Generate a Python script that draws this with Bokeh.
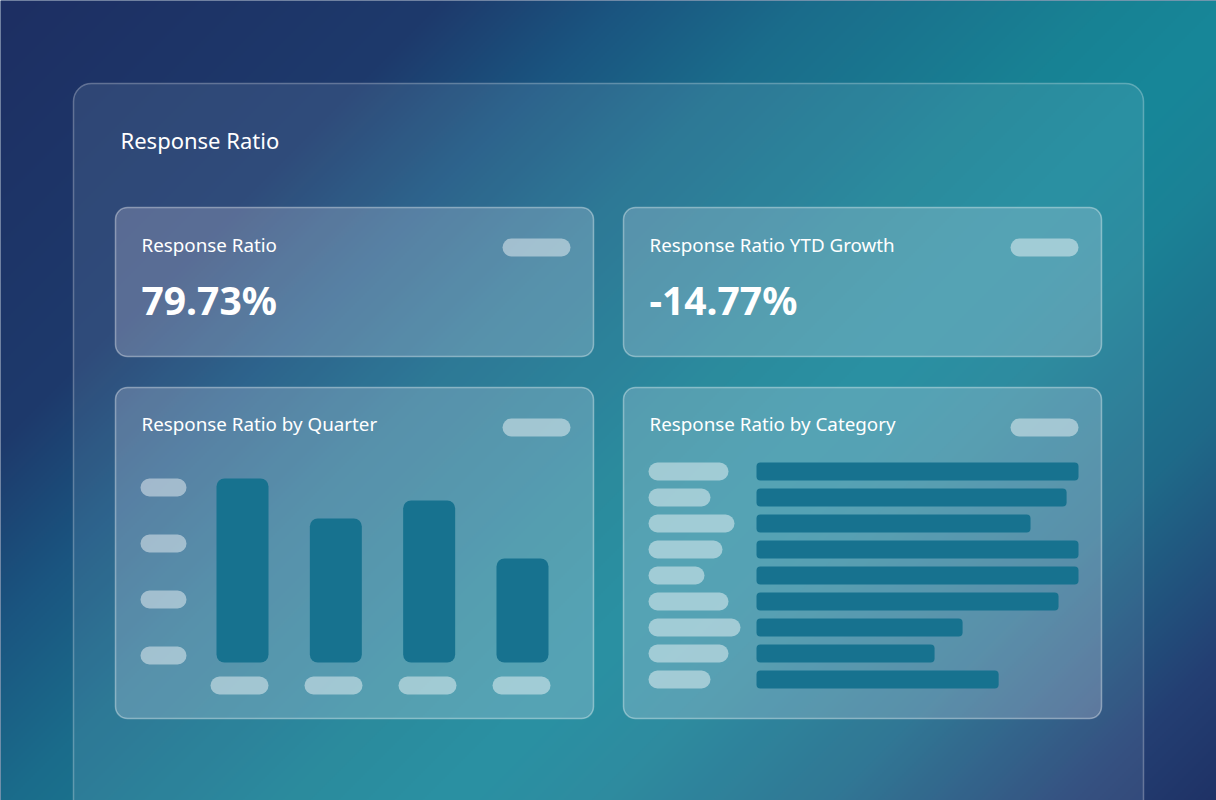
import numpy as np
from bokeh.plotting import figure
from bokeh.models import Range1d
from bokeh.core.properties import value
from bokeh.embed import file_html
from bokeh.resources import INLINE

# ---------------- data ----------------
dashboard_title = "Response Ratio"
kpi_titles = ["Response Ratio", "Response Ratio YTD Growth"]
kpi_values = ["79.73%", "-14.77%"]

quarter_chart_title = "Response Ratio by Quarter"
quarters = ["Q1", "Q2", "Q3", "Q4"]
quarter_values = [92, 72, 81, 52]

category_chart_title = "Response Ratio by Category"
categories = ["Cat A", "Cat B", "Cat C", "Cat D", "Cat E",
              "Cat F", "Cat G", "Cat H", "Cat I"]
category_values = [100.0, 96.3, 85.1, 100.0, 100.0, 93.8, 64.0, 55.3, 75.2]

# ---------------- layout / style ----------------
W, H = 1216, 800
FONT = value("Noto Sans")
BAR_COLOR = "#17728f"
PILL_ALPHA = 0.45
label_pill_widths = [80, 62, 86, 74, 56, 80, 92, 80, 62]
BASE_SHIFT = 0.46  # baseline correction (fraction of font size)


def Y(py):
    return H - py


def TY(py, size):
    return Y(py - BASE_SHIFT * size)


def hex2rgb(h):
    h = h.lstrip("#")
    return [int(h[i:i + 2], 16) for i in (0, 2, 4)]


p = figure(width=W, height=H, x_range=Range1d(0, W), y_range=Range1d(0, H),
           output_backend="svg", toolbar_location=None, min_border=0,
           x_axis_location=None, y_axis_location=None)
p.grid.visible = False
p.outline_line_color = None
p.background_fill_color = "#1d3a6c"
p.border_fill_color = "#1d3a6c"

# background gradient (style only)
nx, ny = 608, 400
gx = (np.arange(nx) + 0.5) * W / nx
gy = H - (np.arange(ny) + 0.5) * H / ny
t = (gx[None, :] + gy[:, None]) / (W + H)
stops = [(0.0, "#1d2f63"), (0.22, "#1e3a6c"), (0.31, "#1a5580"), (0.4, "#1b6c8b"),
         (0.55, "#188294"), (0.62, "#178799"), (0.69, "#1b8296"), (0.81, "#1f6a89"),
         (0.93, "#243f73"), (1.0, "#1f3266")]
sp = [s[0] for s in stops]
cols = np.array([hex2rgb(s[1]) for s in stops])
img = np.empty((ny, nx), dtype=np.uint32)
view = img.view(dtype=np.uint8).reshape((ny, nx, 4))
for ch in range(3):
    view[:, :, ch] = np.interp(t, sp, cols[:, ch]).astype(np.uint8)
view[:, :, 3] = 255
p.image_rgba(image=[img], x=0, y=0, dw=W, dh=H)

# big card
p.quad(left=73, right=1143, top=Y(83), bottom=Y(840), border_radius=18,
       fill_color="#c8e8f2", fill_alpha=0.11, line_color="white",
       line_alpha=0.28, line_width=1.5)

# inner cards
cards = [(115, 207, 593, 356), (623, 207, 1101, 356),
         (115, 387, 593, 718), (623, 387, 1101, 718)]
p.quad(left=[c[0] for c in cards], right=[c[2] for c in cards],
       top=[Y(c[1]) for c in cards], bottom=[Y(c[3]) for c in cards],
       border_radius=12, fill_color="#f4eef8", fill_alpha=0.21,
       line_color="white", line_alpha=0.38, line_width=1.5)

# header pills
hp = [(502, 238), (1010, 238), (502, 418), (1010, 418)]
p.quad(left=[h[0] for h in hp], right=[h[0] + 68 for h in hp],
       top=[Y(h[1]) for h in hp], bottom=[Y(h[1] + 18) for h in hp],
       border_radius=9, fill_color="white", fill_alpha=PILL_ALPHA, line_color=None)

# quarter chart y-axis pills
yp = [478, 534, 590, 646]
p.quad(left=140, right=186, top=[Y(v) for v in yp], bottom=[Y(v + 18) for v in yp],
       border_radius=9, fill_color="white", fill_alpha=PILL_ALPHA, line_color=None)
# quarter chart x-axis pills
xp = [239 + 94 * i for i in range(len(quarters))]
p.quad(left=[v - 29 for v in xp], right=[v + 29 for v in xp], top=Y(676), bottom=Y(694),
       border_radius=9, fill_color="white", fill_alpha=PILL_ALPHA, line_color=None)

# category label pills
cp = [462 + 26 * i for i in range(len(categories))]
p.quad(left=648, right=[648 + w for w in label_pill_widths],
       top=[Y(v) for v in cp], bottom=[Y(v + 18) for v in cp],
       border_radius=9, fill_color="white", fill_alpha=PILL_ALPHA, line_color=None)

# texts
p.text(x=[120], y=[TY(150, 22)], text=[dashboard_title], text_font=FONT,
       text_font_size="22px", text_color="white", text_baseline="alphabetic")
p.text(x=[141, 649, 141, 649],
       y=[TY(253, 18.8), TY(253, 18.8), TY(432, 18.8), TY(432, 18.8)],
       text=kpi_titles + [quarter_chart_title, category_chart_title],
       text_font=FONT, text_font_size="18.8px", text_color="white",
       text_baseline="alphabetic")
p.text(x=[141, 649], y=[TY(317, 39), TY(317, 39)], text=kpi_values, text_font=FONT,
       text_font_size="39px", text_font_style="bold", text_color="white",
       text_baseline="alphabetic")

# quarter bar chart via sub-coordinates
step_q = 93.33
q = p.subplot(x_source=Range1d(-0.5, len(quarters) - 0.5),
              y_source=Range1d(0, 100),
              x_target=Range1d(242 - step_q / 2, 242 + (len(quarters) - 0.5) * step_q),
              y_target=Range1d(Y(662), Y(462)))
q.vbar(x=list(range(len(quarters))), top=quarter_values, bottom=0,
       width=52 / step_q, border_radius=8, fill_color=BAR_COLOR, line_color=None)

# category bar chart via sub-coordinates
n = len(categories)
c = p.subplot(x_source=Range1d(0, 100),
              y_source=Range1d(n - 0.5, -0.5),
              x_target=Range1d(756, 1078),
              y_target=Range1d(Y(458 + 26 * n), Y(458)))
c.hbar(y=list(range(n)), right=category_values, left=0, height=18 / 26,
       border_radius=4, fill_color=BAR_COLOR, line_color=None)

open("out.html", "w").write(file_html(p, INLINE))
